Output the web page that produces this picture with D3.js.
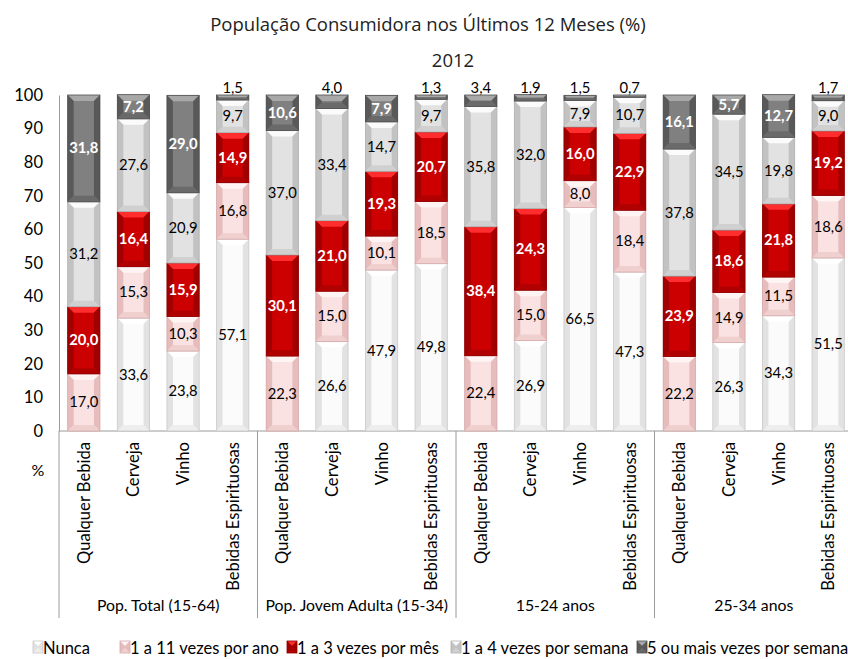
<!DOCTYPE html>
<html>
<head>
<meta charset="utf-8">
<script src="https://cdn.jsdelivr.net/npm/d3@7"></script>
<style>
  body { margin: 0; background: #fff; }
  text { font-family: Lato, "Open Sans", sans-serif; fill: #000; }
</style>
</head>
<body>
<div id="chart"></div>
<script>
const width = 848;
const height = 659;

// data
const groups = ["Pop. Total (15-64)", "Pop. Jovem Adulta (15-34)", "15-24 anos", "25-34 anos"];
const drinks = ["Qualquer Bebida", "Cerveja", "Vinho", "Bebidas Espirituosas"];
const seriesNames = ["Nunca", "1 a 11 vezes por ano", "1 a 3 vezes por mês", "1 a 4 vezes por semana", "5 ou mais vezes por semana"];
const yTicks = [0, 10, 20, 30, 40, 50, 60, 70, 80, 90, 100];

// one value per bar, in the order groups x drinks
const nunca    = [0, 33.6, 23.8, 57.1,  0, 26.6, 47.9, 49.8,  0, 26.9, 66.5, 47.3,  0, 26.3, 34.3, 51.5];
const porAno   = [17.0, 15.3, 10.3, 16.8,  22.3, 15.0, 10.1, 18.5,  22.4, 15.0, 8.0, 18.4,  22.2, 14.9, 11.5, 18.6];
const porMes   = [20.0, 16.4, 15.9, 14.9,  30.1, 21.0, 19.3, 20.7,  38.4, 24.3, 16.0, 22.9,  23.9, 18.6, 21.8, 19.2];
const porSem   = [31.2, 27.6, 20.9, 9.7,  37.0, 33.4, 14.7, 9.7,  35.8, 32.0, 7.9, 10.7,  37.8, 34.5, 19.8, 9.0];
const cincoMais = [31.8, 7.2, 29.0, 1.5,  10.6, 4.0, 7.9, 1.3,  3.4, 1.9, 1.5, 0.7,  16.1, 5.7, 12.7, 1.7];

const seriesValues = [nunca, porAno, porMes, porSem, cincoMais];

// colours for the bevelled look: centre, top, sides, bottom, outline
const palette = [
  { base: "#fbfbfb", top: "#ffffff", side: "#e2e2e2", bottom: "#eeeeee", stroke: "#c9c9c9" },
  { base: "#fbe2e2", top: "#fff4f4", side: "#e6bcbc", bottom: "#f0cfcf", stroke: "#d6a8a8" },
  { base: "#cc0000", top: "#ff2d2d", side: "#a00000", bottom: "#b00000", stroke: "#8c0000" },
  { base: "#e2e2e2", top: "#fbfbfb", side: "#c2c2c2", bottom: "#d0d0d0", stroke: "#b0b0b0" },
  { base: "#808080", top: "#a8a8a8", side: "#595959", bottom: "#6a6a6a", stroke: "#4d4d4d" }
];

const rows = [];
groups.forEach((g, gi) => {
  drinks.forEach((d, di) => {
    const i = gi * drinks.length + di;
    const row = { key: g + "|" + d, group: g, drink: d };
    seriesNames.forEach((s, si) => { row[s] = seriesValues[si][i]; });
    rows.push(row);
  });
});

const stacked = d3.stack().keys(seriesNames)(rows);

const svg = d3.select("#chart")
  .append("svg")
  .attr("width", width)
  .attr("height", height);

const plotLeft = 59, plotRight = 853, plotTop = 95, plotBottom = 431;

const x = d3.scaleBand()
  .domain(rows.map(r => r.key))
  .range([plotLeft, plotRight])
  .paddingInner(0.35)
  .paddingOuter(0.175);

const y = d3.scaleLinear()
  .domain([0, 100])
  .range([plotBottom, plotTop]);

// titles
svg.append("text")
  .attr("x", 428).attr("y", 31)
  .attr("text-anchor", "middle")
  .style("font-size", "18.5px")
  .style("font-family", "'Open Sans', sans-serif")
  .style("fill", "#222")
  .text("População Consumidora nos Últimos 12 Meses (%)");

svg.append("text")
  .attr("x", 453).attr("y", 67)
  .attr("text-anchor", "middle")
  .style("font-size", "18.5px")
  .style("font-family", "'Open Sans', sans-serif")
  .style("fill", "#222")
  .text("2012");

// y axis
const yAxis = svg.append("g")
  .attr("transform", `translate(${plotLeft},0)`)
  .call(d3.axisLeft(y).tickValues(yTicks).tickSize(0).tickPadding(16));
yAxis.select(".domain").attr("stroke", "#9a9a9a");
yAxis.selectAll("text").style("font-size", "16.5px").style("font-family", "Lato, sans-serif");

svg.append("text")
  .attr("x", 38).attr("y", 476)
  .attr("text-anchor", "middle")
  .style("font-size", "16px")
  .text("%");

// category axis
svg.append("line")
  .attr("x1", plotLeft).attr("x2", plotRight)
  .attr("y1", plotBottom).attr("y2", plotBottom)
  .attr("stroke", "#9a9a9a");

const groupStep = (plotRight - plotLeft) / groups.length;
d3.range(groups.length + 1).forEach(i => {
  svg.append("line")
    .attr("x1", plotLeft + i * groupStep).attr("x2", plotLeft + i * groupStep)
    .attr("y1", plotBottom).attr("y2", 618)
    .attr("stroke", "#9a9a9a");
});

svg.selectAll(".cat")
  .data(rows)
  .join("text")
  .attr("class", "cat")
  .attr("transform", d => `translate(${x(d.key) + x.bandwidth() / 2 + 6},442) rotate(-90)`)
  .attr("text-anchor", "end")
  .style("font-size", "16.6px")
  .text(d => d.drink);

svg.selectAll(".grp")
  .data(groups)
  .join("text")
  .attr("class", "grp")
  .attr("x", (d, i) => plotLeft + (i + 0.5) * groupStep)
  .attr("y", 611)
  .attr("text-anchor", "middle")
  .style("font-size", "15.8px")
  .text(d => d);

// bevelled segment
function bevel(g, x0, y0, w, h, c) {
  const b = Math.min(6, h / 2, w / 2);
  const x1 = x0 + w, y1 = y0 + h;
  const poly = (pts, fill) => g.append("polygon")
    .attr("points", pts.map(p => p.join(",")).join(" "))
    .attr("fill", fill);
  g.append("rect").attr("x", x0).attr("y", y0).attr("width", w).attr("height", h).attr("fill", c.base);
  poly([[x0, y0], [x1, y0], [x1 - b, y0 + b], [x0 + b, y0 + b]], c.top);
  poly([[x0, y1], [x1, y1], [x1 - b, y1 - b], [x0 + b, y1 - b]], c.bottom);
  poly([[x0, y0], [x0 + b, y0 + b], [x0 + b, y1 - b], [x0, y1]], c.side);
  poly([[x1, y0], [x1 - b, y0 + b], [x1 - b, y1 - b], [x1, y1]], c.side);
  g.append("rect").attr("x", x0).attr("y", y0).attr("width", w).attr("height", h)
    .attr("fill", "none").attr("stroke", c.stroke).attr("stroke-width", 0.8);
}

const bars = svg.append("g");
stacked.forEach((layer, si) => {
  layer.forEach((seg, i) => {
    const h = y(seg[0]) - y(seg[1]);
    if (h <= 0) return;
    bevel(bars.append("g"), x(rows[i].key), y(seg[1]), x.bandwidth(), h, palette[si]);
  });
});

// data labels
const fmt = v => v.toFixed(1).replace(".", ",");
stacked.forEach((layer, si) => {
  layer.forEach((seg, i) => {
    const v = seg.data[seriesNames[si]];
    if (!v) return;
    const inside = v >= 5;
    const cx = x(rows[i].key) + x.bandwidth() / 2;
    const cy = inside ? y((seg[0] + seg[1]) / 2) + 5 : y(100) - 2;
    const white = inside && (si === 2 || si === 4);
    svg.append("text")
      .attr("x", cx).attr("y", cy)
      .attr("text-anchor", "middle")
      .style("font-size", "14.8px")
      .style("font-weight", white ? "bold" : "normal")
      .style("fill", white ? "#fff" : "#000")
      .text(fmt(v));
  });
});

// legend
const legendX = [33, 120, 287, 451, 637];
const legend = svg.append("g");
seriesNames.forEach((s, si) => {
  bevel(legend.append("g"), legendX[si], 641, 10, 12, palette[si]);
  legend.append("text")
    .attr("x", legendX[si] + 10).attr("y", 654)
    .style("font-size", "16.5px")
    .text(s);
});
</script>
</body>
</html>
